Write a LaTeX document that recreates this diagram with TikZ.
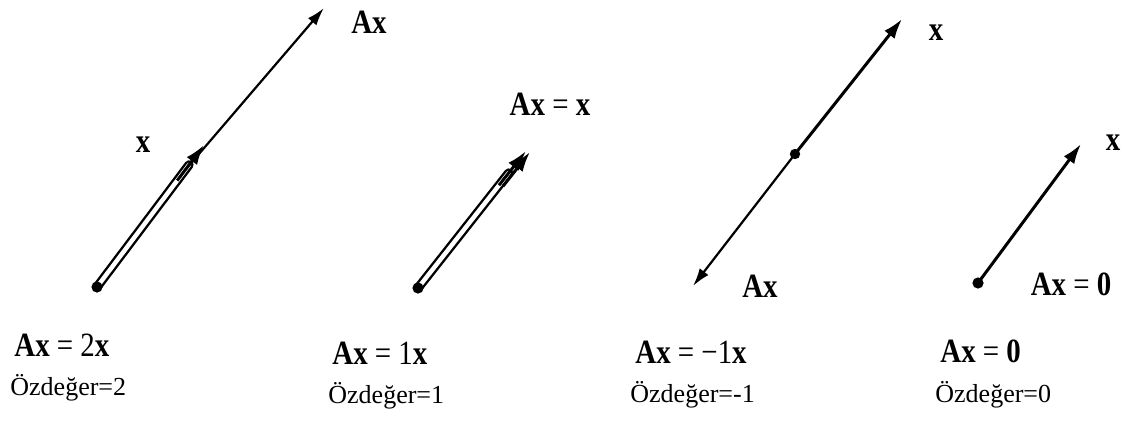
\documentclass[tikz,border=0pt]{standalone}
\usepackage{fontspec}
\setmainfont{Liberation Serif}
\newfontfamily\eqfont[FakeStretch=0.85]{Liberation Serif}
\usetikzlibrary{arrows.meta,calc}

\begin{document}
\begin{tikzpicture}[x=0.5pt, y=-0.5pt, >=Latex,
  every node/.style={inner sep=0pt, anchor=base, font=\eqfont\fontsize{17}{19}\selectfont},
  vec/.style={line width=1.1pt, -{Latex[length=9pt,width=5.5pt]}},
  thick vec/.style={line width=1.5pt, -{Latex[length=10pt,width=6.5pt]}},
  hollow/.style={double, line width=1.2pt, double distance=2.2pt, line cap=round},
  eqn/.style={anchor=base west, font=\eqfont\fontsize{17}{19}\selectfont},
  lbl/.style={anchor=base west, font=\fontsize{13}{15}\selectfont}]
  \useasboundingbox (0,0) rectangle (1130,424);

  % lambda = 2
  \coordinate (s1) at (97,287);
  \coordinate (t1) at (204,145);
  \coordinate (a1) at (324,8);
  \draw[hollow] (s1) -- ($(s1)!0.86!(t1)$);
  \fill (s1) circle (2.8pt);
  \draw[thick vec] ($(s1)!0.75!(t1)$) -- (t1);
  \draw[vec] ($(s1)!0.82!(t1)$) -- (a1);
  \node (x1) at (143,152) {\textbf{x}};
  \node (ax1) at (369,33) {\textbf{Ax}};
  \node[eqn] (e1) at (14,356) {\textbf{Ax} = 2\textbf{x}};
  \node[lbl] (l1) at (10,395) {Özdeğer=2};

  % lambda = 1
  \coordinate (s2) at (418,288);
  \coordinate (t2) at (526,151);
  \draw[hollow] (s2) -- ($(s2)!0.84!(t2)$);
  \fill (s2) circle (2.8pt);
  \draw[thick vec] ($(s2)!0.75!(t2)$) -- (t2);
  \draw[thick vec] ($(s2)!0.75!(t2)+(4,1)$) -- ($(t2)+(4,1)$);
  \node (ax2) at (550,115) {\textbf{Ax} = \textbf{x}};
  \node[eqn] (e2) at (332,364) {\textbf{Ax} = 1\textbf{x}};
  \node[lbl] (l2) at (328,403) {Özdeğer=1};

  % lambda = -1
  \coordinate (o3) at (795,154);
  \coordinate (t3) at (902,19);
  \coordinate (a3) at (693,286);
  \draw[thick vec] (o3) -- (t3);
  \draw[vec] (o3) -- (a3);
  \fill (o3) circle (2.6pt);
  \node (x3) at (936,40) {\textbf{x}};
  \node (ax3) at (760,297) {\textbf{Ax}};
  \node[eqn] (e3) at (635,363) {\textbf{Ax} = −1\textbf{x}};
  \node[lbl] (l3) at (630,402) {Özdeğer=-1};

  % lambda = 0
  \coordinate (o4) at (978,283);
  \coordinate (t4) at (1081,144);
  \draw[thick vec] (o4) -- (t4);
  \fill (o4) circle (2.8pt);
  \node (x4) at (1113,150) {\textbf{x}};
  \node (ax4) at (1071,295) {\textbf{Ax} = \textbf{0}};
  \node[eqn] (e4) at (940,362) {\textbf{Ax} = \textbf{0}};
  \node[lbl] (l4) at (935,402) {Özdeğer=0};
\end{tikzpicture}
\end{document}
